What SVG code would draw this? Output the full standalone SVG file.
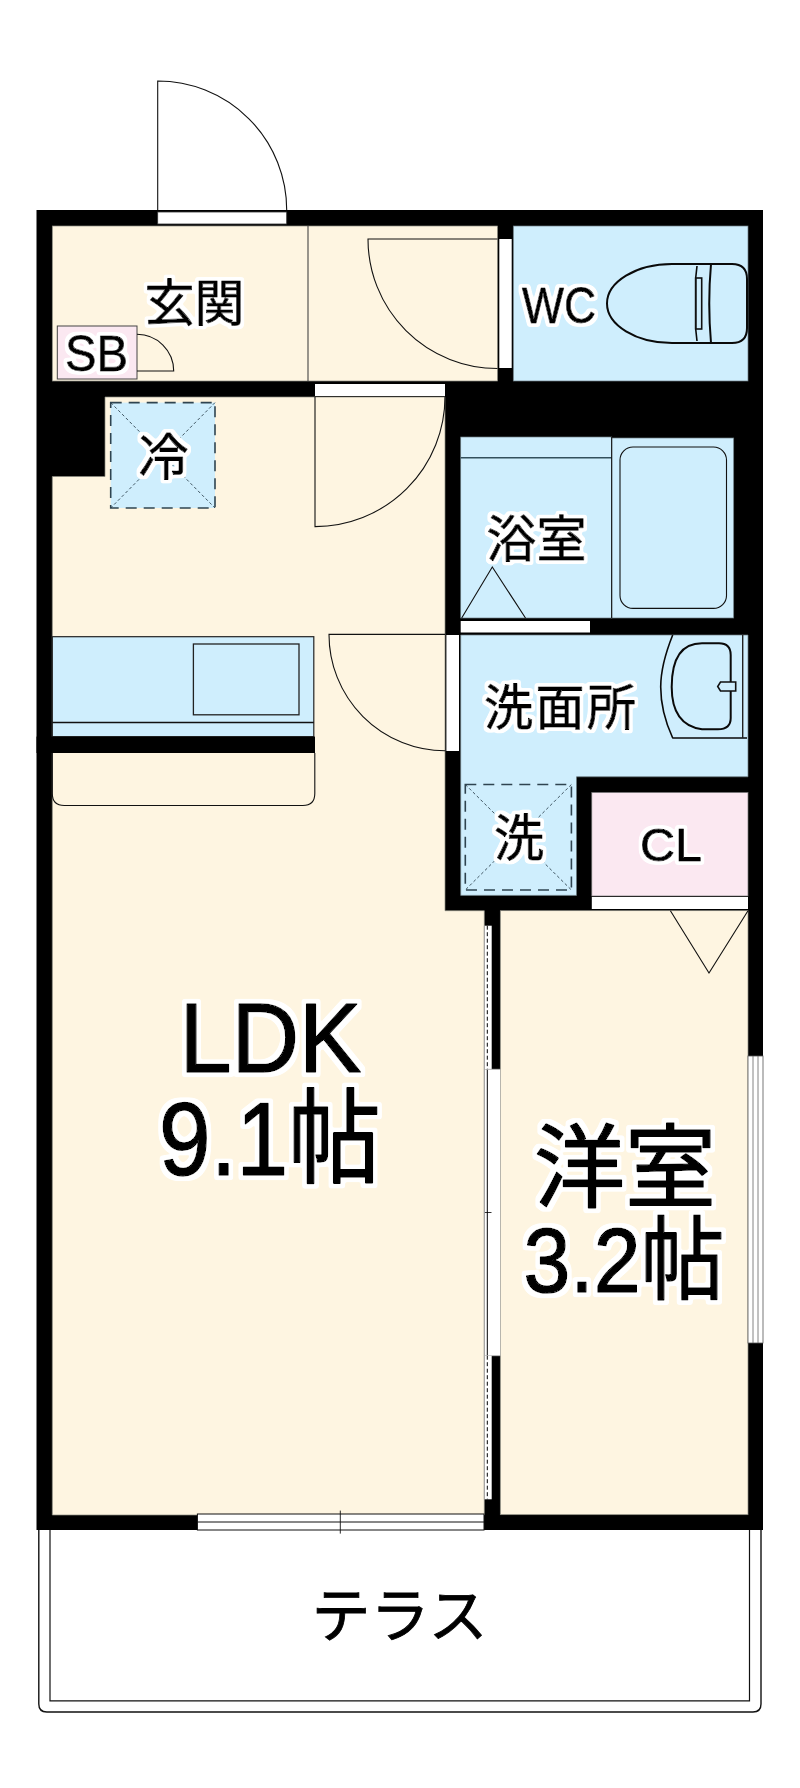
<svg xmlns="http://www.w3.org/2000/svg" width="800" height="1788" viewBox="0 0 800 1788">
<style>
.room{fill:#fef5e1;stroke:#8a8a80;stroke-width:.7}
.blue{fill:#cfeefd;stroke:#6a7a80;stroke-width:.7}
.pink{fill:#fbe8f1;stroke:#777;stroke-width:.7}
.ln{fill:none;stroke:#111;stroke-width:1.1}
.eq{fill:none;stroke:#0a0a0a;stroke-width:2;stroke-linejoin:round}
.dash{fill:#cfeefd;stroke:#2f4450;stroke-width:1.6;stroke-dasharray:11 7}
.dot{stroke:#2f4450;stroke-width:.9;stroke-dasharray:3 2.4;fill:none}
.win{fill:#fff;stroke:#555;stroke-width:.8}
.t{font-family:"Liberation Sans","Noto Sans CJK JP",sans-serif;fill:#000;stroke:#000;stroke-linejoin:round}
.s{stroke-width:.9;filter:url(#haloS)}
.b{stroke-width:1.6;filter:url(#haloB)}
</style>
<defs>
<filter id="haloS" x="-25%" y="-25%" width="150%" height="150%">
<feMorphology in="SourceAlpha" operator="dilate" radius="2.6" result="d"/>
<feGaussianBlur in="d" stdDeviation="0.8" result="g"/>
<feComponentTransfer in="g" result="a"><feFuncA type="linear" slope="4" intercept="-1"/></feComponentTransfer>
<feFlood flood-color="#fff" result="w"/>
<feComposite in="w" in2="a" operator="in" result="h"/>
<feMerge><feMergeNode in="h"/><feMergeNode in="SourceGraphic"/></feMerge>
</filter>
<filter id="haloB" x="-25%" y="-25%" width="150%" height="150%">
<feMorphology in="SourceAlpha" operator="dilate" radius="4" result="d"/>
<feGaussianBlur in="d" stdDeviation="1" result="g"/>
<feComponentTransfer in="g" result="a"><feFuncA type="linear" slope="4" intercept="-1"/></feComponentTransfer>
<feFlood flood-color="#fff" result="w"/>
<feComposite in="w" in2="a" operator="in" result="h"/>
<feMerge><feMergeNode in="h"/><feMergeNode in="SourceGraphic"/></feMerge>
</filter>
</defs>
<rect width="800" height="1788" fill="#fff"/>
<g id="terrace">
<path class="ln" d="M38.8 1530V1704q0 8 8 8H753q8 0 8-8V1530" style="stroke-width:1.4"/>
<path class="ln" d="M50 1530V1700.8H749.5V1530" style="stroke-width:1.2"/>
</g>
<g id="entry-door-leaf"><path class="ln" d="M157.7 212V81A129 129 0 0 1 286.7 210"/></g>
<g id="walls"><rect x="36.5" y="210" width="726.5" height="1320" fill="#000"/></g>
<g id="rooms">
<rect id="genkan" class="room" x="52.3" y="226" width="445.2" height="155"/>
<rect id="wc" class="blue" x="513.3" y="226" width="234.7" height="155"/>
<path id="ldk" class="room" d="M105 397H445V910.7H484.3V1515H52.3V476.5H105Z"/>
<rect id="youshitsu" class="room" x="500.3" y="910.7" width="247.7" height="604"/>
<path id="senmen" class="blue" d="M460.7 635H748V776.8H576.5V895.4H460.7Z"/>
<rect id="bath-floor" class="blue" x="460.7" y="437" width="151" height="181"/>
<rect id="bath-tub" class="blue" x="611.7" y="438" width="122" height="180"/>
<rect id="cl" class="pink" x="591.8" y="792.5" width="156.2" height="103.5"/>
</g>
<g id="entry-door"><rect x="157.7" y="212" width="129" height="12" fill="#fff" stroke="#333" stroke-width=".8"/></g>
<g id="sb">
<rect class="pink" x="57.3" y="326" width="79.7" height="53" style="stroke:#444;stroke-width:1"/>
<path class="ln" d="M137 334.3A36.7 36.7 0 0 1 173.7 371H137"/>
</g>
<g id="genkan-details">
<line class="ln" x1="308" y1="226" x2="308" y2="381" style="stroke:#444"/>
<rect x="499.3" y="239" width="12.4" height="129" fill="#fff"/>
<path class="ln" d="M497.5 239H368A129.5 129.5 0 0 0 497.5 368.5"/>
</g>
<g id="ldk-door">
<rect x="315" y="384" width="130" height="12" fill="#fff"/>
<path class="ln" d="M315 397V526.6A130 130 0 0 0 445 397"/>
</g>
<g id="fridge">
<rect class="dash" x="110.7" y="402.6" width="104.3" height="105.4"/>
<path class="dot" d="M110.7 402.6L215 508M215 402.6L110.7 508"/>
</g>
<g id="kitchen">
<rect class="blue" x="52.3" y="636.7" width="261.5" height="100" style="stroke:#222;stroke-width:1.2"/>
<line class="ln" x1="52.3" y1="722.5" x2="313.8" y2="722.5" style="stroke-width:1.3"/>
<rect class="blue" x="193.4" y="644" width="105.6" height="70.8" style="stroke:#222;stroke-width:1.3"/>
<rect x="36.5" y="736.6" width="278.5" height="16.4" fill="#000"/>
<path class="ln" d="M52.3 753V793.5q0 12 12 12H302.8q12 0 12-12V753"/>
</g>
<g id="wash-door">
<rect x="446.4" y="635" width="12.6" height="116" fill="#fff"/>
<path class="ln" d="M445 634.4H329A116.4 116.4 0 0 0 445 750.8"/>
</g>
<g id="bath-details">
<line x1="460.7" y1="457.7" x2="611.7" y2="457.7" stroke="#33505c" stroke-width="1.6"/>
<line class="ln" x1="611.7" y1="437" x2="611.7" y2="618"/>
<rect x="620" y="447" width="106.5" height="161.4" rx="13" fill="none" stroke="#111" stroke-width="1.1"/>
<path class="ln" d="M461.7 618L492.3 567L525.5 618"/>
<rect x="460.7" y="621" width="129.3" height="11.5" fill="#fff"/>
</g>
<g id="toilet">
<path class="eq" d="M711 264H672C636 264 607 282 607 303.500S636 343 672 343H711"/>
<path class="eq" d="M711 264H732Q747 264 747 279V328Q747 343 732 343H711Q707.500 303.500 711 264Z"/>
<path class="eq" d="M697 266L695.700 278V329L697 341" style="stroke-width:1.6"/>
<rect x="695.700" y="278" width="6" height="51" fill="none" stroke="#111" stroke-width="1.6"/>
</g>
<g id="sink">
<path class="eq" d="M672.700 635Q660.700 665 660.700 687Q660.700 712 672.700 738H747" style="stroke-width:1.6"/>
<line x1="742.700" y1="635" x2="742.700" y2="738" stroke="#222" stroke-width="1.4"/>
<path class="eq" d="M730.700 655V718Q730.700 729.300 718 729.300H702Q671.700 725 671.700 687Q671.700 643.300 702 643.300H719Q730.700 643.300 730.700 655Z"/>
<path d="M735.700 682H720.500L717.700 686.500L720.500 691H735.700Z" fill="#cfeefd" stroke="#111" stroke-width="1.6"/>
</g>
<g id="washer">
<rect class="dash" x="465.300" y="784.500" width="106.100" height="105.500"/>
<path class="dot" d="M465.300 784.500L571.400 890M571.400 784.500L465.300 890"/>
</g>
<g id="cl-door">
<rect x="591.800" y="897" width="156.200" height="12" fill="#fff"/>
<path class="ln" d="M670.400 910.700L709 973L748 910.700"/>
</g>
<g id="partition">
<rect x="484.700" y="925.700" width="7" height="143.600" fill="#fff"/>
<line x1="487.300" y1="925.700" x2="487.300" y2="1069.300" stroke="#000" stroke-width="1" stroke-dasharray="4 2.500"/>
<rect x="484.700" y="1069.300" width="15.600" height="286.400" fill="#fff"/>
<line x1="487.300" y1="1069.300" x2="487.300" y2="1355.700" stroke="#000" stroke-width="1"/>
<line x1="484.300" y1="1212.500" x2="491.500" y2="1212.500" stroke="#000" stroke-width=".8"/>
<line x1="487" y1="1069.300" x2="500.300" y2="1069.300" stroke="#bbb" stroke-width=".8"/>
<line x1="484.300" y1="1355.700" x2="500.300" y2="1355.700" stroke="#bbb" stroke-width=".8"/>
<rect x="484.700" y="1355.700" width="7" height="143.600" fill="#fff"/>
<line x1="487.300" y1="1355.700" x2="487.300" y2="1499.300" stroke="#000" stroke-width="1" stroke-dasharray="4 2.500"/>
<line x1="484.300" y1="925.700" x2="484.300" y2="1499.300" stroke="#aaa" stroke-width="1"/>
</g>
<g id="windows">
<rect class="win" x="748" y="1056" width="15" height="287"/>
<path d="M753 1056V1343M758 1056V1343" stroke="#666" stroke-width=".8" fill="none"/>
<rect x="197.400" y="1514" width="286.600" height="16" fill="#fff" stroke="#111" stroke-width="1"/>
<line x1="197.400" y1="1522" x2="484" y2="1522" stroke="#111" stroke-width="1"/>
<line x1="340.300" y1="1510.600" x2="340.300" y2="1533.600" stroke="#111" stroke-width=".9"/>
</g>
<g id="labels">
<text class="t s" x="194.500" y="321" font-size="50" text-anchor="middle">玄関</text>
<text class="t s" x="522" y="323" font-size="50" textLength="74" lengthAdjust="spacingAndGlyphs">WC</text>
<text class="t s" x="65" y="370.500" font-size="50" textLength="63" lengthAdjust="spacingAndGlyphs">SB</text>
<text class="t s" x="163.500" y="475" font-size="50" text-anchor="middle">冷</text>
<text class="t s" x="536.500" y="557" font-size="50" text-anchor="middle">浴室</text>
<text class="t s" x="484" y="725" font-size="49" textLength="152">洗面所</text>
<text class="t s" x="519" y="856" font-size="50" text-anchor="middle">洗</text>
<text class="t s" x="640" y="861" font-size="47" textLength="62" lengthAdjust="spacingAndGlyphs">CL</text>
<text class="t b" x="179.500" y="1072" font-size="99" textLength="182" lengthAdjust="spacingAndGlyphs">LDK</text>
<text class="t b" x="159" y="1175" font-size="103" textLength="222" lengthAdjust="spacingAndGlyphs">9.1帖</text>
<text class="t b" x="625" y="1200" font-size="91" text-anchor="middle">洋室</text>
<text class="t b" x="523.500" y="1292" font-size="91" textLength="201" lengthAdjust="spacingAndGlyphs">3.2帖</text>
<text x="399.500" y="1637" font-size="59" text-anchor="middle" font-family="'Liberation Sans','Noto Sans CJK JP',sans-serif" fill="#000" stroke="#000" stroke-width=".8">テラス</text>
</g>
</svg>
